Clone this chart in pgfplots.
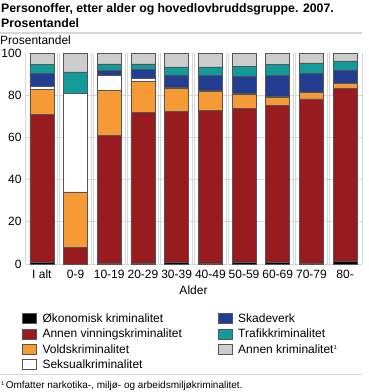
\documentclass[border=0pt]{standalone}
\usepackage{pgfplots}
\pgfplotsset{compat=1.18}
\usepackage{pgfplotstable}
\usepackage{fontspec}
\setmainfont{Liberation Sans}
\definecolor{cOk}{RGB}{0,0,0}
\definecolor{cVinn}{RGB}{152,27,31}
\definecolor{cVold}{RGB}{245,154,53}
\definecolor{cSeks}{RGB}{255,255,255}
\definecolor{cSkade}{RGB}{34,61,145}
\definecolor{cTraf}{RGB}{18,156,153}
\definecolor{cAnnen}{RGB}{204,204,204}
\definecolor{cGrid}{RGB}{215,215,215}
\definecolor{cEdge}{RGB}{85,85,85}
\pgfplotstableread{
x Ok Vinn Vold Seks Skade Traf Annen
0 0.6 70.4 11.6 1.6 6.3 4.0 5.5
1 0.0 7.9 26.3 46.5 0.3 10.0 9.0
2 0.3 60.8 21.2 7.1 2.4 3.0 5.2
3 0.4 71.3 15.0 1.3 4.1 2.7 5.2
4 0.8 71.4 10.9 0.6 5.9 3.8 6.6
5 0.5 72.4 8.9 0.5 6.9 4.2 6.6
6 0.7 73.0 6.8 0.2 8.4 4.4 6.5
7 0.6 74.6 3.9 0.2 9.9 5.3 5.5
8 0.3 77.9 3.0 0.2 8.8 5.1 4.7
9 1.1 82.1 2.4 0.1 6.3 4.3 3.7
}\data
\begin{document}
\begin{tikzpicture}[x=1pt,y=1pt]
\useasboundingbox (0,0) rectangle (369,392);
\node[anchor=base west, inner sep=0, font=\bfseries\fontsize{12.3}{14}\selectfont] at (1,379) {Personoffer, etter alder og hovedlovbruddsgruppe. 2007.};
\node[anchor=base west, inner sep=0, font=\bfseries\fontsize{12.3}{14}\selectfont] at (1,364) {Prosentandel};
\draw[cGrid, line width=1.2pt] (0,359) -- (362,359);
\node[anchor=base west, inner sep=0, font=\fontsize{12}{14}\selectfont] at (0,347) {Prosentandel};
\draw[cGrid, line width=1pt] (0,17.3) -- (362,17.3);
\node[anchor=base west, inner sep=0, font=\fontsize{10}{12}\selectfont] at (1,3.5) {\raisebox{3.2pt}{\fontsize{5.5}{6}\selectfont 1}\hspace{1.5pt}Omfatter narkotika-, miljø- og arbeidsmiljøkriminalitet.};
\begin{axis}[
  at={(25pt,128pt)}, anchor=south west,
  scale only axis, width=337pt, height=211pt,
  ybar stacked, bar width=24pt,
  xmin=-0.5, xmax=9.5, ymin=0, ymax=100,
  xtick=data,
  xticklabels={I alt,0-9,10-19,20-29,30-39,40-49,50-59,60-69,70-79,80-},
  ytick={0,20,40,60,80,100},
  extra y ticks={0,20,40,60,80},
  extra y tick labels={},
  extra y tick style={grid=major, major grid style={cGrid, line width=0.8pt}},
  minor xtick={0.5,1.5,...,8.5},
  xminorgrids=true,
  minor grid style={draw=cGrid, line width=0.8pt, double=white, double distance=1.2pt},
  extra x ticks={-0.5,9.5},
  extra x tick labels={},
  extra x tick style={grid=major, major grid style={cGrid, line width=1pt}},
  axis line style={draw=none},
  major tick length=0pt, minor tick length=0pt,
  tick style={draw=none},
  ticklabel style={font=\fontsize{12}{14}\selectfont},
  xticklabel style={yshift=-2.5pt},
  yticklabel style={inner ysep=0pt},
  xlabel={Alder},
  xlabel style={font=\fontsize{12}{14}\selectfont, yshift=-0.5pt},
  /pgf/number format/assume math mode=true,
  every axis plot/.append style={draw=cEdge, line width=0.6pt},
  legend style={at={(-0.0089,-0.2239)}, anchor=north west, draw=none, fill=none,
    font=\fontsize{12}{14}\selectfont, row sep=0.8pt, column sep=0pt, inner sep=0pt,
    cells={anchor=west, inner xsep=0pt, inner ysep=0pt, text height=9pt, text depth=2.5pt}},
  transpose legend,
  legend columns=4,
  legend image code/.code={\path[draw=none, fill=none] (0pt,0pt) -- (18pt,0pt);
    \draw[#1, draw=cEdge, line width=0.6pt] (0pt,-5pt) rectangle (14pt,5pt);},
]
\addplot[fill=cOk] table[x=x,y=Ok]{\data};
\addlegendentry{Økonomisk kriminalitet}
\addplot[fill=cVinn] table[x=x,y=Vinn]{\data};
\addlegendentry{Annen vinningskriminalitet\hspace*{34pt}}
\addplot[fill=cVold] table[x=x,y=Vold]{\data};
\addlegendentry{Voldskriminalitet}
\addplot[fill=cSeks] table[x=x,y=Seks]{\data};
\addlegendentry{Seksualkriminalitet}
\addplot[fill=cSkade] table[x=x,y=Skade]{\data};
\addlegendentry{Skadeverk}
\addplot[fill=cTraf] table[x=x,y=Traf]{\data};
\addlegendentry{Trafikkriminalitet}
\addplot[fill=cAnnen] table[x=x,y=Annen]{\data};
\addlegendentry{Annen kriminalitet\raisebox{4pt}{\fontsize{6}{7}\selectfont 1}}
\end{axis}
\end{tikzpicture}
\end{document}
